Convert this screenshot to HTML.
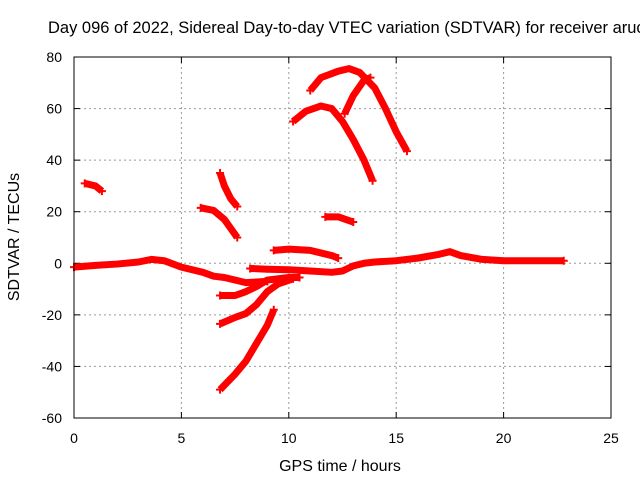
<!DOCTYPE html>
<html><head><meta charset="utf-8"><style>
body{margin:0;background:#fff;overflow:hidden}
svg{font-family:"Liberation Sans",sans-serif;}
</style></head><body>
<svg id="c" width="640" height="480" xmlns="http://www.w3.org/2000/svg">
<text x="48" y="33" font-size="16.5">Day 096 of 2022, Sidereal Day-to-day VTEC variation (SDTVAR) for receiver aruc</text>
<text x="340" y="471" font-size="16" text-anchor="middle">GPS time / hours</text>
<text transform="translate(19,237) rotate(-90)" font-size="16" text-anchor="middle">SDTVAR / TECUs</text>
<g id="grid"></g><g id="ticks"></g><g id="series"></g>
<rect x="74" y="57" width="537" height="361" fill="none" stroke="#000" stroke-width="1"/>
</svg>
<script>
const xTicks=[0,5,10,15,20,25];
const yTicks=[-60,-40,-20,0,20,40,60,80];
const segA=[[0,-1.5],[1,-0.8],[2,-0.3],[3,0.5],[3.6,1.5],[4.2,1],[5,-1.5],[6,-3.5],[6.5,-5],[7,-5.5],[8,-7.5],[9,-7]];
const segB=[[8.2,-2],[9,-2.3],[10,-2.5],[11,-3],[12,-3.5],[12.5,-3],[13,-1],[13.5,0],[14,0.5],[15,1],[16,2],[17,3.5],[17.5,4.5],[18,3],[19,1.5],[20,1],[21,1],[22,1],[22.8,1]];
const segC=[[9.3,5],[10,5.5],[11,5],[12,3],[12.3,2]];
const segD=[[6.8,-12.5],[7.5,-12.5],[8,-11],[8.5,-9],[9,-6.5],[10,-5.5],[10.5,-5.5]];
const segE=[[6.8,-23.5],[7.5,-21],[8,-19.5],[8.5,-16],[9,-11],[9.5,-8],[10.2,-6]];
const segF=[[6.8,-49],[7.5,-43],[8,-38],[8.5,-31],[9,-24],[9.3,-18]];
const segG=[[0.5,31],[1,30],[1.3,28]];
const segH=[[6.8,35],[7,30],[7.3,25],[7.6,22]];
const segI=[[5.9,21.5],[6.5,20.5],[7,17],[7.6,10]];
const segJ=[[11.7,18],[12.3,18],[13,16]];
const segK=[[10.2,55],[10.8,59],[11.5,61],[12,60],[12.5,55],[13,48],[13.5,40],[13.9,32]];
const segL=[[11,67],[11.5,72],[12.3,74.5],[12.8,75.5],[13.3,74],[14,68],[14.5,60],[15,51],[15.5,43.5]];
const segM=[[12.6,58],[13,65],[13.5,71],[13.8,72]];
const segments=[segA,segB,segC,segD,segE,segF,segG,segH,segI,segJ,segK,segL,segM];
const NS="http://www.w3.org/2000/svg";
const X=v=>74+v*537/25, Y=v=>57+(80-v)*361/140;
function mk(t,a,p){const e=document.createElementNS(NS,t);for(const k in a)e.setAttribute(k,a[k]);p.appendChild(e);return e;}
const g=document.getElementById('grid'),tk=document.getElementById('ticks'),s=document.getElementById('series');
xTicks.forEach(v=>{const x=X(v);
 if(v>0&&v<25){const l=mk('line',{x1:x,x2:x,y1:57,y2:418,stroke:'#999','stroke-dasharray':'2,3'},g);
 
 }
 mk('line',{x1:x,x2:x,y1:418,y2:412,stroke:'#000'},tk);mk('line',{x1:x,x2:x,y1:57,y2:63,stroke:'#000'},tk);
 const t=mk('text',{x:x,y:443,'font-size':14,'text-anchor':'middle'},tk);t.textContent=v;
 
 });
yTicks.forEach(v=>{const y=Y(v);
 if(v>-60&&v<80){const l=mk('line',{x1:74,x2:611,y1:y,y2:y,stroke:'#999','stroke-dasharray':'2,3'},g);
 
 }
 mk('line',{x1:74,x2:80,y1:y,y2:y,stroke:'#000'},tk);mk('line',{x1:611,x2:605,y1:y,y2:y,stroke:'#000'},tk);
 const t=mk('text',{x:62,y:y+5,'font-size':14,'text-anchor':'end'},tk);t.textContent=v;
 
 });
segments.forEach(seg=>{
 const p=mk('polyline',{points:seg.map(d=>X(d[0])+','+Y(d[1])).join(' '),fill:'none',stroke:'#f00','stroke-width':7,'stroke-linejoin':'round'},s);
 
 
 [seg[0],seg[seg.length-1]].forEach(d=>{const x=X(d[0]),y=Y(d[1]);
  mk('path',{d:`M${x-4},${y}H${x+4}M${x},${y-4}V${y+4}`,stroke:'#f00','stroke-width':2},s);});
});
</script>
</body></html>
